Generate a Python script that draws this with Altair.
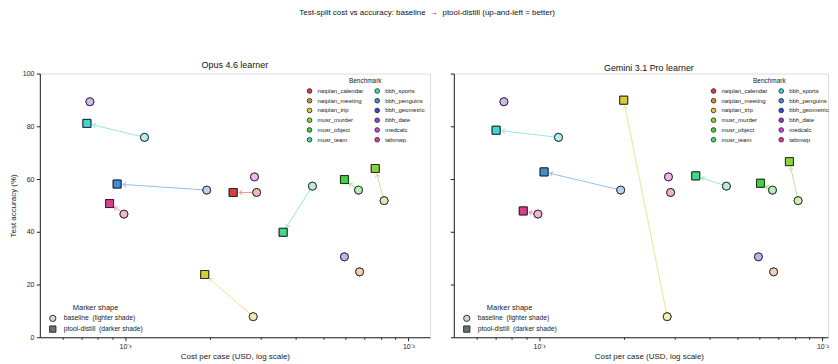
import math
import altair as alt
import pandas as pd

# ---------------- data ----------------
benchmarks = ["natplan_calendar", "natplan_meeting", "natplan_trip", "musr_murder",
              "musr_object", "musr_team", "bbh_sports", "bbh_penguins",
              "bbh_geometric", "bbh_date", "medcalc", "tabmwp"]
palette_dark = ["#d93f3f", "#d9873f", "#d4cf35", "#8ad33b", "#3fd43f", "#3fd98c",
                "#3fd6d6", "#3f8cd9", "#3f3fd9", "#8c3fd9", "#d93fd9", "#d93f8c"]

# baseline (same for both learners)
baseline_cost = [2.91e-3, 6.72e-3, 2.83e-3, 8.2e-3, 6.66e-3, 4.58e-3,
                 1.17e-3, 1.94e-3, 5.94e-3, 7.51e-4, 2.86e-3, 9.9e-4]
baseline_acc = [54.9, 24.8, 7.8, 51.8, 55.8, 57.3, 75.8, 55.8, 30.5, 89.3, 60.8, 46.7]

# ptool-distill, Opus 4.6 learner (None = not shown)
opus_cost = [2.405e-3, None, 1.909e-3, 7.63e-3, 5.94e-3, 3.61e-3,
             7.33e-4, 9.37e-4, None, None, None, 8.81e-4]
opus_acc = [54.9, None, 23.8, 64.0, 59.8, 39.8, 81.1, 58.1, None, None, None, 50.7]

# ptool-distill, Gemini 3.1 Pro learner
gemini_cost = [None, None, 1.988e-3, 7.64e-3, 6.04e-3, 3.57e-3,
               7.05e-4, 1.041e-3, None, None, None, 8.79e-4]
gemini_acc = [None, None, 89.9, 66.6, 58.4, 61.2, 78.5, 62.7, None, None, None, 47.9]

x_ticks = [6e-4, 7e-4, 8e-4, 9e-4, 1e-3, 2e-3, 3e-3, 4e-3, 5e-3, 6e-3, 7e-3, 8e-3, 9e-3, 1e-2]
y_ticks = [0, 20, 40, 60, 80, 100]
KINDS = ["baseline\u00a0 (lighter shade)", "ptool-distill\u00a0 (darker shade)"]

# ---------------- layout ----------------
X_MIN, X_MAX = 5e-4, 0.0119
PW, PH = 392, 265          # left panel plot area
PW_R = 376                 # right panel (cut at the page edge, same px per decade)
FONT = "Liberation Sans"


def blend(hexc, w):
    rgb = [int(hexc[i:i + 2], 16) for i in (1, 3, 5)]
    return "#%02x%02x%02x" % tuple(round(c + (255 - c) * w) for c in rgb)


palette_light = [blend(c, 0.62) for c in palette_dark]
palette_arrow = [blend(c, 0.45) for c in palette_dark]

ppd = PW / (math.log10(X_MAX) - math.log10(X_MIN))
ppu = PH / 100.0
X_MAX_R = 10 ** (math.log10(X_MIN) + PW_R / ppd)

y_scale = alt.Scale(domain=[0, 100], nice=False, zero=False)


def x_axis(first):
    return alt.Axis(
        title="Cost per case (USD, log scale)", values=x_ticks, grid=False,
        labelExpr="datum.value == 0.001 ? '10\u207b\u00b3' : (datum.value == 0.01 ? '10\u207b\u00b2' : '')",
        tickSize={"condition": {"test": "datum.value == 0.001 || datum.value == 0.01", "value": 3.5}, "value": 2},
        labelFontSize=7, titleFontSize=8, titleFontWeight="normal", labelPadding=2, titlePadding=3,
        titleX=PW / 2, titleAlign="center",
        domainColor="#222", tickColor="#222", labelColor="#222", titleColor="#222",
        labelFlush=False, labelOverlap=False)


def y_axis(first):
    if first:
        return alt.Axis(title="Test accuracy (%)", values=y_ticks, grid=False, tickSize=3.5,
                        labelFontSize=7, titleFontSize=8, titleFontWeight="normal",
                        labelPadding=2.5, titlePadding=5, domainColor="#222", tickColor="#222",
                        labelColor="#222", titleColor="#222")
    return alt.Axis(title=None, labels=False, values=y_ticks, grid=False, tickSize=3.5,
                    domainColor="#222", tickColor="#222")


def panel(dcost, dacc, title, first):
    width = PW if first else PW_R
    x_scale = alt.Scale(type="log", domain=[X_MIN, X_MAX if first else X_MAX_R], nice=False)
    base_rows, dist_rows, arrow_rows = [], [], []
    for i, b in enumerate(benchmarks):
        base_rows.append({"benchmark": b, "cost": baseline_cost[i], "acc": baseline_acc[i], "kind": KINDS[0]})
        if dcost[i] is None:
            continue
        dist_rows.append({"benchmark": b, "cost": dcost[i], "acc": dacc[i], "kind": KINDS[1]})
        dx = (math.log10(dcost[i]) - math.log10(baseline_cost[i])) * ppd
        dy = (dacc[i] - baseline_acc[i]) * ppu
        L = math.hypot(dx, dy)
        f = 6.0 / L
        arrow_rows.append({
            "benchmark": b,
            "cost_b": baseline_cost[i], "acc_b": baseline_acc[i],
            "cost_t": 10 ** (math.log10(dcost[i]) - f * dx / ppd),
            "acc_t": dacc[i] - f * dy / ppu,
            "angle": math.degrees(math.atan2(dx, dy)) % 360,
            "acol": palette_arrow[i],
        })
    base = pd.DataFrame(base_rows)
    dist = pd.DataFrame(dist_rows)
    arrows = pd.DataFrame(arrow_rows)
    allpts = pd.concat([base, dist], ignore_index=True)

    X = lambda f: alt.X(f"{f}:Q", scale=x_scale, axis=x_axis(first))
    Y = lambda f: alt.Y(f"{f}:Q", scale=y_scale, axis=y_axis(first))
    STROKE = alt.value("#222")

    rules = alt.Chart(arrows).mark_rule(strokeWidth=1).encode(
        x=X("cost_b"), x2="cost_t:Q", y=Y("acc_b"), y2="acc_t:Q",
        stroke=alt.Stroke("acol:N", scale=None))
    heads = alt.Chart(arrows).mark_point(
        shape="M-0.8,1L0,0L0.8,1", filled=False, size=36, strokeWidth=1, opacity=1).encode(
        x=X("cost_t"), y=Y("acc_t"), angle=alt.Angle("angle:Q", scale=None),
        stroke=alt.Stroke("acol:N", scale=None))

    kind_legend = alt.Legend(
        title="Marker shape", orient="none", legendX=9, legendY=232, symbolSize=40,
        symbolStrokeWidth=0.9, symbolOpacity=1,
        labelFontSize=6.75, titleFontSize=7.5, titleFontWeight="normal",
        titleAnchor="middle", titleAlign="center",
        titlePadding=2.5, rowPadding=0.8, labelOffset=7, padding=0, labelColor="#222", titleColor="#222")
    gray = alt.Chart(allpts).mark_point(
        filled=True, size=64, strokeWidth=0.9, opacity=1).encode(
        x=X("cost"), y=Y("acc"),
        shape=alt.Shape("kind:N", scale=alt.Scale(domain=KINDS, range=["circle", "square"]), legend=kind_legend),
        color=alt.Color("kind:N", scale=alt.Scale(domain=KINDS, range=["#d4d4d4", "#6f6f6f"]), legend=kind_legend),
        stroke=STROKE)

    circles = alt.Chart(base).mark_point(
        shape="circle", filled=True, size=64, strokeWidth=0.9, opacity=1).encode(
        x=X("cost"), y=Y("acc"),
        fill=alt.Fill("benchmark:N", scale=alt.Scale(domain=benchmarks, range=palette_light), legend=None),
        stroke=STROKE)

    legend_pos = dict(orient="top-right", offset=5) if first else dict(orient="none", legendX=258, legendY=5)
    bench_legend = alt.Legend(
        title="Benchmark", columns=2,
        symbolType="circle", symbolSize=22, symbolStrokeWidth=0.8,
        symbolOpacity=1, labelFontSize=6, titleFontSize=6.5, titleFontWeight="normal",
        titleAnchor="middle", titleAlign="center", titlePadding=3, rowPadding=1.8,
        columnPadding=9, labelOffset=5, padding=0, labelColor="#222", titleColor="#222",
        **legend_pos)
    squares = alt.Chart(dist).mark_point(
        shape="square", filled=True, size=64, strokeWidth=0.9, opacity=1).encode(
        x=X("cost"), y=Y("acc"),
        fill=alt.Fill("benchmark:N", scale=alt.Scale(domain=benchmarks, range=palette_dark), legend=bench_legend),
        stroke=STROKE)

    return alt.layer(rules, heads, gray, circles, squares).resolve_scale(
        fill="independent").properties(
        width=width, height=PH,
        title=alt.TitleParams(title, fontSize=9, fontWeight="normal", offset=0, color="#111",
                              dx=0 if first else (PW - PW_R) / 2))


left = panel(opus_cost, opus_acc, "Opus 4.6 learner", True)
right = panel(gemini_cost, gemini_acc, "Gemini 3.1 Pro learner", False)

chart = alt.hconcat(left, right, spacing=18).resolve_scale(
    fill="independent", shape="independent", color="independent",
    x="independent", y="independent").resolve_legend(
    fill="independent", shape="independent", color="independent").properties(
    title=alt.TitleParams("Test-split cost vs accuracy: baseline \u00a0\u2192\u00a0 ptool-distill (up-and-left = better)",
                          fontSize=8, fontWeight="normal", anchor="middle", offset=43, color="#111",
                          dx=(PW - PW_R) / 2),
    padding={"left": 0, "top": 0, "right": 0, "bottom": 0},
).configure_view(stroke=None).configure(font=FONT, background="white")

chart.save("out.html", embed_options={"renderer": "svg", "actions": False})
